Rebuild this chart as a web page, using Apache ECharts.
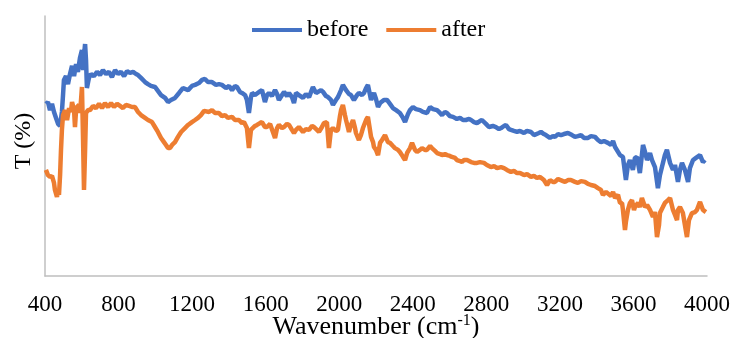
<!DOCTYPE html>
<html>
<head>
<meta charset="utf-8">
<script src="https://cdn.jsdelivr.net/npm/echarts@6/dist/echarts.min.js"></script>
<style>
  html, body {margin: 0; padding: 0; background: #fff;}
  #chart {width: 732px; height: 338px;}
</style>
</head>
<body>
<div id="chart"></div>
<script>
// FTIR spectra: [wavenumber (cm-1), T (%)]
const before = [
  [405, 66.2], [416, 66.9], [427, 63.8], [438, 66.2], [449, 63.1], [460, 60.8], [471, 58.5], [482, 57.7],
  [492, 63.1], [498, 69.6], [503, 75.4], [514, 76.9], [525, 73.8], [536, 77.7], [547, 80.8], [558, 76.9],
  [569, 81.5], [579, 78.5], [590, 83.8], [601, 86.9], [607, 79.2], [612, 84.6], [618, 89.2], [623, 83.1],
  [628, 72.3], [639, 76.2], [650, 77.7], [666, 76.9], [683, 78.5], [699, 77.3], [715, 79.2], [732, 77.7],
  [748, 78.5], [764, 76.5], [781, 79.2], [797, 77.7], [813, 78.5], [830, 76.9], [846, 78.8], [862, 78.1],
  [879, 78.5], [895, 77.7], [906, 77.3], [922, 76.2], [944, 74.6], [960, 73.8], [976, 73.1], [998, 72.7],
  [1014, 71.2], [1031, 69.6], [1053, 68.5], [1069, 66.9], [1085, 67.7], [1107, 68.5], [1129, 70.4], [1150, 72.3],
  [1178, 71.5], [1199, 73.1], [1216, 73.5], [1237, 74.2], [1254, 75.4], [1270, 75.8], [1286, 74.6], [1308, 74.6],
  [1330, 73.5], [1346, 73.8], [1362, 73.5], [1384, 72.3], [1401, 73.1], [1417, 71.5], [1433, 73.1], [1444, 72.7],
  [1460, 70.8], [1471, 70.4], [1488, 69.6], [1498, 67.7], [1509, 62.7], [1520, 68.8], [1526, 70.4], [1542, 69.6],
  [1564, 70.8], [1580, 71.5], [1596, 66.9], [1607, 69.6], [1618, 70.4], [1634, 69.2], [1651, 71.5], [1662, 70.0],
  [1672, 67.7], [1689, 69.6], [1700, 70.8], [1716, 69.2], [1727, 70.4], [1743, 68.8], [1754, 66.5], [1765, 70.4],
  [1781, 69.6], [1803, 68.5], [1819, 70.0], [1836, 68.8], [1857, 72.7], [1874, 70.4], [1901, 71.5], [1912, 70.8],
  [1928, 69.2], [1939, 68.8], [1955, 67.7], [1966, 65.8], [1982, 67.7], [1993, 68.8], [2010, 71.5], [2020, 73.5],
  [2037, 71.5], [2053, 70.0], [2064, 69.6], [2080, 67.7], [2097, 69.6], [2107, 70.4], [2124, 69.6], [2135, 70.4],
  [2146, 72.3], [2156, 73.5], [2173, 67.7], [2189, 70.4], [2200, 68.1], [2211, 65.0], [2222, 66.5], [2243, 67.7],
  [2260, 67.7], [2276, 66.2], [2292, 64.6], [2309, 63.8], [2330, 62.7], [2347, 60.8], [2358, 59.2], [2374, 62.3],
  [2385, 63.8], [2401, 65.0], [2417, 64.2], [2439, 63.8], [2455, 63.1], [2477, 62.7], [2494, 65.0], [2510, 64.2],
  [2532, 63.8], [2548, 62.7], [2559, 61.9], [2575, 63.1], [2586, 62.7], [2602, 61.5], [2619, 61.2], [2640, 60.4],
  [2657, 60.8], [2673, 60.0], [2689, 60.0], [2706, 60.4], [2717, 60.0], [2733, 59.2], [2749, 58.8], [2765, 59.6],
  [2776, 60.0], [2798, 58.5], [2814, 57.3], [2836, 57.7], [2852, 57.3], [2869, 56.5], [2880, 56.9], [2896, 57.7],
  [2907, 58.1], [2923, 56.5], [2934, 56.2], [2950, 55.8], [2967, 55.4], [2983, 55.8], [3005, 55.0], [3021, 55.8],
  [3043, 55.4], [3059, 54.2], [3086, 55.0], [3097, 55.4], [3113, 54.6], [3124, 54.2], [3146, 53.1], [3162, 53.8],
  [3173, 53.5], [3190, 54.6], [3206, 54.2], [3222, 54.6], [3244, 55.0], [3266, 54.2], [3282, 53.5], [3298, 53.8],
  [3315, 54.2], [3331, 53.1], [3353, 53.1], [3369, 53.8], [3391, 53.5], [3407, 52.3], [3423, 51.5], [3440, 51.9],
  [3461, 51.2], [3478, 50.4], [3489, 51.9], [3500, 49.6], [3510, 49.6], [3527, 46.5], [3543, 45.8], [3559, 36.9],
  [3570, 42.7], [3581, 44.6], [3597, 40.8], [3608, 45.4], [3619, 45.8], [3635, 39.6], [3652, 50.4], [3663, 47.7],
  [3674, 44.6], [3690, 47.3], [3701, 44.6], [3717, 41.9], [3733, 33.8], [3744, 38.8], [3755, 41.9], [3771, 46.5],
  [3782, 48.5], [3799, 43.5], [3815, 40.8], [3826, 42.7], [3842, 36.2], [3853, 40.8], [3864, 43.5], [3880, 40.8],
  [3897, 36.2], [3907, 41.5], [3924, 44.6], [3940, 45.4], [3962, 46.5], [3978, 43.8], [3989, 44.6]
];

const after = [
  [405, 40.8], [416, 38.8], [427, 38.1], [438, 38.5], [449, 35.8], [454, 33.1], [465, 30.4], [471, 33.1],
  [476, 31.2], [482, 38.8], [487, 48.5], [492, 56.2], [498, 61.9], [509, 63.8], [520, 60.0], [531, 64.6],
  [541, 63.1], [547, 66.9], [558, 63.8], [563, 57.3], [569, 63.8], [574, 65.0], [585, 65.8], [590, 62.7],
  [596, 67.7], [601, 72.7], [607, 52.3], [612, 33.1], [618, 48.5], [623, 62.7], [634, 63.8], [645, 63.8],
  [661, 65.4], [677, 64.6], [694, 66.2], [710, 64.6], [726, 66.5], [743, 65.0], [759, 66.5], [775, 65.0],
  [792, 66.2], [808, 65.4], [824, 64.6], [840, 65.8], [857, 65.4], [873, 65.0], [889, 65.0], [906, 63.1],
  [922, 61.9], [944, 60.8], [960, 60.0], [982, 59.2], [998, 57.3], [1014, 55.4], [1031, 53.1], [1047, 51.5],
  [1058, 50.4], [1069, 49.2], [1080, 49.2], [1091, 50.4], [1107, 51.5], [1123, 53.5], [1140, 55.4], [1161, 56.9],
  [1178, 58.1], [1199, 59.2], [1216, 60.0], [1232, 60.8], [1248, 61.9], [1265, 63.5], [1275, 63.8], [1292, 63.1],
  [1308, 63.8], [1324, 62.7], [1346, 62.7], [1362, 61.5], [1379, 61.9], [1395, 60.8], [1417, 61.2], [1433, 60.0],
  [1455, 60.0], [1471, 58.8], [1482, 59.2], [1498, 56.9], [1509, 49.2], [1520, 56.2], [1526, 56.9], [1542, 57.7],
  [1553, 58.1], [1569, 58.8], [1580, 59.2], [1596, 57.3], [1607, 57.3], [1624, 58.5], [1634, 58.8], [1651, 53.1],
  [1662, 56.9], [1672, 58.1], [1689, 56.9], [1700, 57.3], [1716, 58.5], [1727, 58.1], [1743, 56.2], [1754, 55.0],
  [1765, 56.2], [1781, 57.3], [1803, 55.4], [1819, 56.5], [1836, 56.2], [1852, 57.7], [1863, 57.3], [1879, 56.2],
  [1890, 55.4], [1906, 57.3], [1917, 58.8], [1933, 59.2], [1944, 49.2], [1955, 56.2], [1966, 56.9], [1982, 55.8],
  [1993, 56.2], [2004, 61.5], [2010, 63.8], [2020, 65.8], [2031, 61.9], [2037, 60.0], [2048, 56.9], [2053, 55.4],
  [2064, 58.1], [2075, 60.0], [2086, 56.9], [2091, 55.0], [2107, 52.3], [2118, 54.2], [2129, 56.9], [2146, 60.0],
  [2156, 61.2], [2162, 61.5], [2173, 53.5], [2184, 51.5], [2189, 49.6], [2200, 48.5], [2211, 46.5], [2222, 51.2],
  [2233, 52.3], [2249, 54.2], [2265, 51.5], [2276, 51.2], [2292, 50.0], [2303, 49.2], [2320, 48.5], [2330, 47.7],
  [2347, 45.8], [2358, 44.6], [2369, 47.3], [2385, 49.2], [2396, 51.2], [2412, 48.5], [2423, 47.7], [2439, 48.5],
  [2450, 49.2], [2466, 48.5], [2477, 48.5], [2494, 50.0], [2504, 49.2], [2521, 48.1], [2532, 47.3], [2548, 46.9],
  [2559, 46.5], [2575, 46.9], [2586, 46.5], [2602, 46.2], [2613, 45.8], [2630, 45.4], [2640, 44.6], [2657, 44.2],
  [2668, 43.8], [2678, 44.6], [2695, 44.6], [2717, 43.8], [2733, 43.5], [2749, 43.5], [2765, 43.8], [2787, 43.5],
  [2803, 42.7], [2825, 41.9], [2842, 42.3], [2858, 41.5], [2880, 41.9], [2896, 41.5], [2912, 40.8], [2934, 40.0],
  [2950, 40.4], [2967, 39.6], [2983, 39.6], [3005, 38.8], [3021, 39.2], [3043, 38.1], [3059, 38.5], [3075, 37.7],
  [3092, 38.1], [3113, 36.9], [3130, 35.0], [3146, 36.9], [3162, 36.2], [3173, 36.2], [3190, 37.3], [3200, 37.7],
  [3217, 36.5], [3228, 36.2], [3244, 36.9], [3260, 36.9], [3282, 36.2], [3298, 35.8], [3315, 36.5], [3336, 36.2],
  [3353, 35.4], [3369, 35.0], [3391, 34.6], [3407, 33.8], [3423, 33.1], [3434, 31.2], [3451, 32.3], [3461, 31.9],
  [3478, 30.8], [3489, 32.3], [3500, 30.0], [3516, 31.2], [3527, 28.1], [3538, 28.1], [3543, 25.4], [3554, 17.7],
  [3559, 20.8], [3570, 25.4], [3581, 28.1], [3592, 29.2], [3603, 25.4], [3608, 26.5], [3625, 28.1], [3635, 26.5],
  [3646, 30.0], [3663, 26.5], [3674, 27.3], [3690, 25.4], [3706, 22.7], [3717, 24.6], [3728, 15.0], [3739, 19.6],
  [3744, 24.2], [3760, 26.5], [3771, 28.1], [3788, 29.2], [3799, 30.0], [3815, 25.4], [3826, 23.5], [3837, 21.5],
  [3842, 25.4], [3853, 26.5], [3869, 24.2], [3880, 19.6], [3891, 15.0], [3902, 21.5], [3918, 24.2], [3935, 24.6],
  [3945, 25.4], [3962, 28.5], [3978, 25.4], [3994, 24.6]
];

const seriesNames = ['before', 'after'];
const seriesColors = ['#4472C4', '#ED7D31'];
const xTicks = [400, 4000, 400]; // min, max, step

const font = "'Liberation Serif', 'Times New Roman', serif";
const chart = echarts.init(document.getElementById('chart'));

chart.setOption({
  animation: false,
  color: seriesColors,
  textStyle: {fontFamily: font, color: '#000'},
  legend: {
    left: 252,
    top: 18,
    padding: 0,
    icon: 'rect',
    itemWidth: 50,
    itemHeight: 4,
    itemGap: 18,
    textStyle: {fontFamily: font, fontSize: 24, color: '#000'},
    data: seriesNames
  },
  grid: {left: 45, right: 25, top: 16, bottom: 62, containLabel: false, outerBoundsMode: 'none'},
  xAxis: {
    type: 'value',
    min: xTicks[0],
    max: xTicks[1],
    interval: xTicks[2],
    name: '{t|Wavenumber (cm}{s|-1}{t|)}',
    nameLocation: 'middle',
    nameGap: 37,
    nameMoveOverlap: false,
    nameTextStyle: {
      verticalAlign: 'top',
      rich: {
        t: {fontFamily: font, fontSize: 26, color: '#000'},
        s: {fontFamily: font, fontSize: 16, color: '#000', padding: [0, 0, 13, 0]}
      }
    },
    axisLine: {lineStyle: {color: '#BFBFBF', width: 1.5}},
    axisTick: {show: false},
    splitLine: {show: false},
    axisLabel: {fontFamily: font, fontSize: 23, color: '#000', margin: 17, formatter: v => String(v)}
  },
  yAxis: {
    type: 'value',
    min: 0,
    max: 100,
    name: 'T (%)',
    nameLocation: 'middle',
    nameGap: 9,
    nameMoveOverlap: false,
    nameTextStyle: {fontFamily: font, fontSize: 24, color: '#000', padding: [0, 0, 0, 10]},
    axisLine: {show: true, lineStyle: {color: '#BFBFBF', width: 1.5}},
    axisTick: {show: false},
    axisLabel: {show: false},
    splitLine: {show: false}
  },
  series: [before, after].map((data, i) => ({
    name: seriesNames[i],
    type: 'line',
    data: data,
    symbol: 'none',
    lineStyle: {width: 4.5, color: seriesColors[i]},
    itemStyle: {color: seriesColors[i]}
  }))
});
</script>
</body>
</html>
